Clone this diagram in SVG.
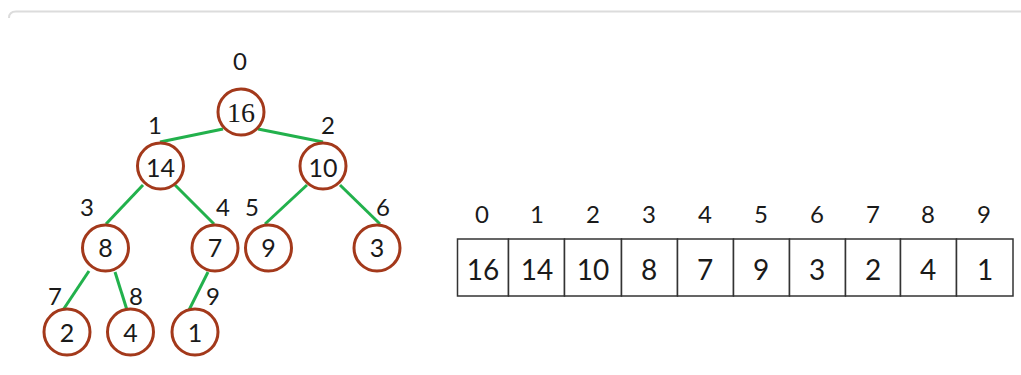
<svg xmlns="http://www.w3.org/2000/svg" width="1021" height="375" viewBox="0 0 1021 375">
<style>
.node circle{fill:#fff;stroke:#a3391b;stroke-width:3}
.node text{font-family:Lato,"Open Sans",sans-serif;font-size:25px;fill:#1a1a1a;text-anchor:middle}
.node text.serif{font-family:"Liberation Serif",serif;font-size:28px}
.edges line{stroke:#22b14c;stroke-width:3}
.idx{font-family:Lato,"Open Sans",sans-serif;font-size:24px;fill:#1a1a1a;text-anchor:middle}
.cell rect{fill:#fff;stroke:#333;stroke-width:1.5}
.cell text{font-family:Lato,"Open Sans",sans-serif;font-size:28px;fill:#1a1a1a;text-anchor:middle}
</style>
<rect width="1021" height="375" fill="#fff"/>
<path d="M9 18 Q9 11.5 16 11.5 H1021" fill="none" stroke="#dcdcdc" stroke-width="2"/>
<g class="edges">
<line x1="223" y1="129" x2="160" y2="142"/>
<line x1="258" y1="129" x2="323" y2="142"/>
<line x1="143" y1="185" x2="106" y2="224"/>
<line x1="175" y1="185" x2="214" y2="224"/>
<line x1="307" y1="185" x2="265" y2="224"/>
<line x1="340" y1="185" x2="380" y2="224"/>
<line x1="89" y1="271" x2="63" y2="310"/>
<line x1="115" y1="272" x2="127" y2="310"/>
<line x1="208" y1="272" x2="189" y2="310"/>
</g>
<g id="n0" class="node"><circle cx="241" cy="112" r="23"/><text class="serif" x="241" y="122">16</text></g>
<g id="n1" class="node"><circle cx="160.5" cy="166" r="23"/><text x="160.5" y="177">14</text></g>
<g id="n2" class="node"><circle cx="323" cy="166" r="23"/><text x="323" y="177">10</text></g>
<g id="n3" class="node"><circle cx="105.5" cy="248" r="23"/><text x="105.5" y="257">8</text></g>
<g id="n4" class="node"><circle cx="215" cy="248" r="23"/><text x="215" y="257">7</text></g>
<g id="n5" class="node"><circle cx="268.5" cy="248" r="23"/><text x="268.5" y="257">9</text></g>
<g id="n6" class="node"><circle cx="377" cy="248" r="23"/><text x="377" y="257">3</text></g>
<g id="n7" class="node"><circle cx="67" cy="332" r="23"/><text x="67" y="342">2</text></g>
<g id="n8" class="node"><circle cx="130.5" cy="332" r="23"/><text x="130.5" y="342">4</text></g>
<g id="n9" class="node"><circle cx="195" cy="332" r="23"/><text x="195" y="342">1</text></g>
<g id="tree-indices">
<text class="idx" x="240" y="70">0</text>
<text class="idx" x="155" y="134">1</text>
<text class="idx" x="328" y="134">2</text>
<text class="idx" x="87" y="216">3</text>
<text class="idx" x="223" y="216">4</text>
<text class="idx" x="252" y="216">5</text>
<text class="idx" x="383" y="216">6</text>
<text class="idx" x="55" y="305">7</text>
<text class="idx" x="136" y="305">8</text>
<text class="idx" x="213" y="305">9</text>
</g>
<g id="array">
<g class="cell"><rect x="457.5" y="239" width="51" height="57"/><text x="483" y="280">16</text></g>
<g class="cell"><rect x="508.5" y="239" width="56" height="57"/><text x="537" y="280">14</text></g>
<g class="cell"><rect x="564.5" y="239" width="57" height="57"/><text x="593" y="280">10</text></g>
<g class="cell"><rect x="621.5" y="239" width="56" height="57"/><text x="649" y="280">8</text></g>
<g class="cell"><rect x="677.5" y="239" width="56" height="57"/><text x="705" y="280">7</text></g>
<g class="cell"><rect x="733.5" y="239" width="56" height="57"/><text x="761" y="280">9</text></g>
<g class="cell"><rect x="789.5" y="239" width="56" height="57"/><text x="817" y="280">3</text></g>
<g class="cell"><rect x="845.5" y="239" width="55" height="57"/><text x="873" y="280">2</text></g>
<g class="cell"><rect x="900.5" y="239" width="56" height="57"/><text x="928" y="280">4</text></g>
<g class="cell"><rect x="956.5" y="239" width="56.5" height="57"/><text x="985" y="280">1</text></g>
<text class="idx" x="482" y="223">0</text>
<text class="idx" x="537" y="223">1</text>
<text class="idx" x="593" y="223">2</text>
<text class="idx" x="649" y="223">3</text>
<text class="idx" x="705" y="223">4</text>
<text class="idx" x="761" y="223">5</text>
<text class="idx" x="817" y="223">6</text>
<text class="idx" x="873" y="223">7</text>
<text class="idx" x="928" y="223">8</text>
<text class="idx" x="984" y="223">9</text>
</g>
</svg>
